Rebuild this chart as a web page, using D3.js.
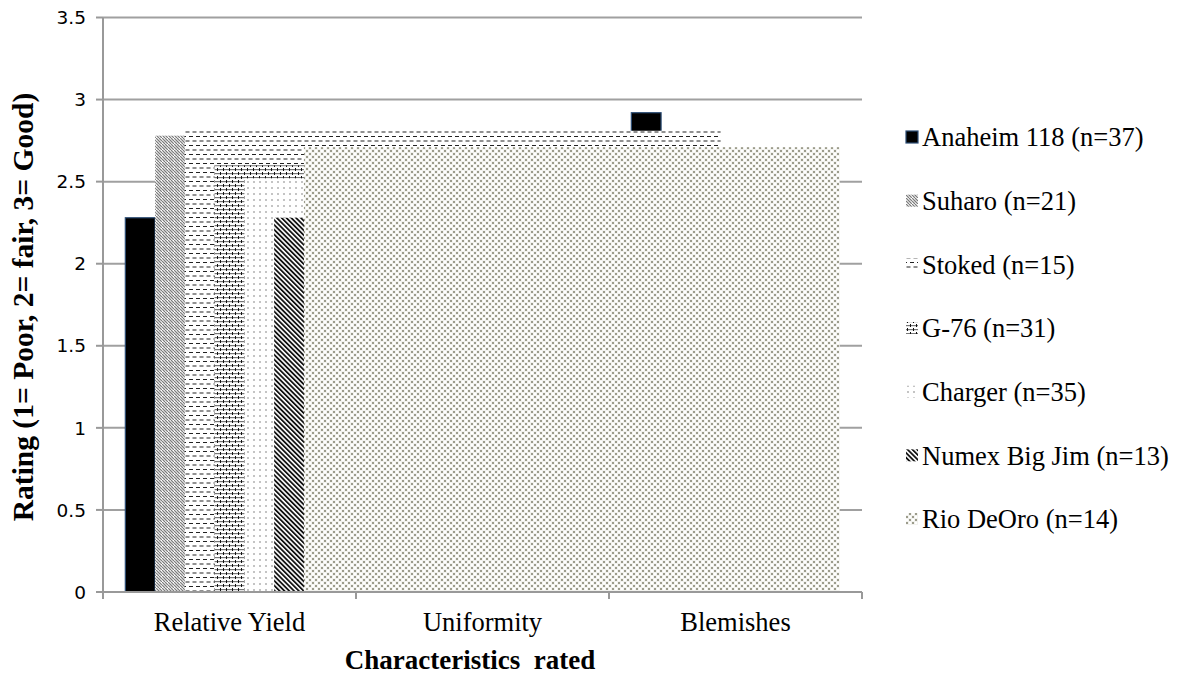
<!DOCTYPE html>
<html><head><meta charset="utf-8">
<script src="https://cdn.jsdelivr.net/npm/d3@7"></script>
<style>body{margin:0;background:#fff}svg{display:block}</style>
</head><body><svg id="c" width="1180" height="677"></svg>
<script>
const categories = ["Relative Yield", "Uniformity", "Blemishes"];
const seriesNames = ["Anaheim 118 (n=37)", "Suharo (n=21)", "Stoked (n=15)", "G-76 (n=31)", "Charger (n=35)", "Numex Big Jim (n=13)", "Rio DeOro (n=14)"];
const anaheim = [2.28, 2.55, 2.92];
const suharo = [2.62, 2.78, 2.70];
const stoked = [2.81, 2.60, 2.73];
const g76 = [2.60, 2.45, 2.52];
const charger = [2.52, 2.40, 2.47];
const numex = [2.28, 2.20, 2.25];
const rioDeOro = [2.64, 2.71, 2.69];
const yTicks = [0, 0.5, 1, 1.5, 2, 2.5, 3, 3.5];
const seriesValues = [anaheim, suharo, stoked, g76, charger, numex, rioDeOro];

const svg = d3.select("#c");
const L = 103, R = 862, T = 17.5, B = 592;
const x0 = d3.scaleBand().domain(categories).range([L, R]).paddingInner(0).paddingOuter(0);
const catW = x0.bandwidth();
const bw = catW / 8.5; // gap width 150%
const x1 = d3.scaleBand().domain(seriesNames).range([0, bw * 7]);
const clusterOff = (catW - bw * 7) / 2;
const y = d3.scaleLinear().domain([0, 3.5]).range([B, T]);
const serif = "'Liberation Serif', 'Times New Roman', serif";

// patterns
const defs = svg.append("defs");
function pat(id, w, h, build, transform) {
  const p = defs.append("pattern").attr("id", id).attr("patternUnits", "userSpaceOnUse")
    .attr("width", w).attr("height", h);
  if (transform) p.attr("patternTransform", transform);
  p.append("rect").attr("width", w).attr("height", h).attr("fill", "#fff");
  build(p);
}
pat("p1", 6, 6, p => {
  p.append("path").attr("d", "M0,0 L3,3 M3,0 L6,3 M0,3 L3,6 M3,3 L6,6").attr("stroke", "#7a7a7a").attr("stroke-width", 1.2);
});
pat("p2", 7, 9, p => {
  p.append("rect").attr("x", 0).attr("y", 1).attr("width", 4).attr("height", 1).attr("fill", "#222");
  p.append("rect").attr("x", 3.5).attr("y", 5.5).attr("width", 4).attr("height", 1).attr("fill", "#222");
  p.append("rect").attr("x", -3.5).attr("y", 5.5).attr("width", 4).attr("height", 1).attr("fill", "#222");
});
pat("p3", 6, 8, p => {
  p.append("rect").attr("x", 0).attr("y", 1).attr("width", 6).attr("height", 1.2).attr("fill", "#777");
  p.append("rect").attr("x", 0).attr("y", 5).attr("width", 6).attr("height", 1.2).attr("fill", "#777");
  p.append("rect").attr("x", 1).attr("y", 0).attr("width", 1).attr("height", 3).attr("fill", "#111");
  p.append("rect").attr("x", 4).attr("y", 4).attr("width", 1).attr("height", 3).attr("fill", "#111");
});
pat("p4", 6, 6, p => {
  p.append("rect").attr("x", 1).attr("y", 1).attr("width", 2).attr("height", 2).attr("fill", "#c4c4c4");
});
pat("p5", 3.4, 3.4, p => {
  p.append("rect").attr("x", 0).attr("y", 0).attr("width", 1.8).attr("height", 3.4).attr("fill", "#111");
}, "rotate(-45)");
pat("p6", 6, 6, p => {
  p.append("rect").attr("width", 6).attr("height", 6).attr("fill", "#f2f2ee");
  p.append("rect").attr("x", 0).attr("y", 0).attr("width", 2).attr("height", 2).attr("fill", "#9c9c8c");
  p.append("rect").attr("x", 3).attr("y", 3).attr("width", 2).attr("height", 2).attr("fill", "#9c9c8c");
  p.append("rect").attr("x", 3).attr("y", 0).attr("width", 2).attr("height", 2).attr("fill", "#fff");
  p.append("rect").attr("x", 0).attr("y", 3).attr("width", 2).attr("height", 2).attr("fill", "#fff");
});
const fills = ["#000", "url(#p1)", "url(#p2)", "url(#p3)", "url(#p4)", "url(#p5)", "url(#p6)"];

// gridlines
svg.append("g").selectAll("line").data(yTicks.filter(d => d > 0)).join("line")
  .attr("x1", L).attr("x2", R).attr("y1", d => y(d)).attr("y2", d => y(d))
  .attr("stroke", "#a0a0a0").attr("stroke-width", 2);

// bars: solid series drawn per bar; patterned series fill spans their bars' extent
const plot = svg.append("g");
seriesNames.forEach((s, i) => {
  const vals = seriesValues[i];
  if (i === 0) {
    plot.selectAll(null).data(vals).join("rect")
      .attr("x", (d, j) => x0(categories[j]) + clusterOff + x1(s))
      .attr("width", bw)
      .attr("y", d => y(d)).attr("height", d => B - y(d))
      .attr("fill", "#000").attr("stroke", "#2c4d75").attr("stroke-width", 1.2);
  } else {
    const first = x0(categories[0]) + clusterOff + x1(s);
    const last = x0(categories[categories.length - 1]) + clusterOff + x1(s) + bw;
    const top = d3.max(vals);
    plot.append("rect").attr("x", first).attr("width", last - first)
      .attr("y", y(top)).attr("height", B - y(top)).attr("fill", fills[i]);
  }
});

// axes
svg.append("line").attr("x1", L).attr("x2", L).attr("y1", T).attr("y2", B).attr("stroke", "#999").attr("stroke-width", 2);
svg.append("line").attr("x1", L).attr("x2", R).attr("y1", B).attr("y2", B).attr("stroke", "#999").attr("stroke-width", 2);
svg.append("g").selectAll("line").data(yTicks).join("line")
  .attr("x1", L - 7).attr("x2", L).attr("y1", d => y(d)).attr("y2", d => y(d))
  .attr("stroke", "#999").attr("stroke-width", 2);
const bounds = categories.map(c => x0(c)).concat([R]);
svg.append("g").selectAll("line").data(bounds).join("line")
  .attr("x1", d => d).attr("x2", d => d).attr("y1", B).attr("y2", B + 7)
  .attr("stroke", "#999").attr("stroke-width", 2);

svg.append("g").selectAll("text").data(yTicks).join("text")
  .attr("x", 86).attr("y", d => y(d)).attr("dy", "0.36em").attr("text-anchor", "end")
  .attr("font-family", "'DejaVu Sans', Verdana, sans-serif").attr("font-size", 18.5).attr("fill", "#000")
  .text(d => d3.format("")(d));

svg.append("g").selectAll("text").data(categories).join("text")
  .attr("x", d => x0(d) + catW / 2).attr("y", 631).attr("text-anchor", "middle")
  .attr("font-family", serif).attr("font-size", 26.5).attr("fill", "#000")
  .text(d => d);

svg.append("text").attr("x", 470).attr("y", 669).attr("text-anchor", "middle")
  .attr("font-family", serif).attr("font-weight", "bold")
  .attr("font-size", 27).style("white-space", "pre").text("Characteristics  rated");

svg.append("text").attr("transform", "translate(33,307) rotate(-90)").attr("text-anchor", "middle")
  .attr("font-family", serif).attr("font-weight", "bold")
  .attr("font-size", 29.5).text("Rating (1= Poor, 2= fair, 3= Good)");

// legend
const lg = svg.append("g");
const ly = d3.scalePoint().domain(seriesNames).range([137, 519]);
lg.selectAll("rect").data(seriesNames).join("rect")
  .attr("x", 906).attr("y", d => ly(d) - 6).attr("width", 12).attr("height", 12)
  .attr("fill", (d, i) => fills[i])
  .attr("stroke", (d, i) => i === 0 ? "#2c4d75" : "none").attr("stroke-width", 1.2);
lg.selectAll("text").data(seriesNames).join("text")
  .attr("x", 922).attr("y", d => ly(d)).attr("dy", "0.35em")
  .attr("font-family", serif).attr("font-size", 26.5).attr("fill", "#000")
  .text(d => d);
</script></body></html>
